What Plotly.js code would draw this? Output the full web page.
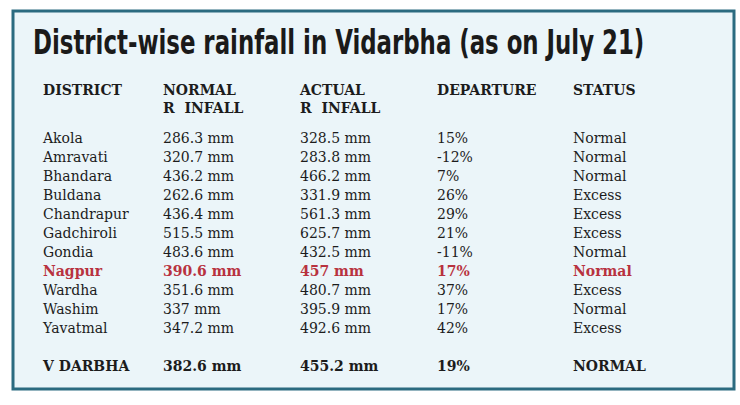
<!DOCTYPE html>
<html>
<head>
<meta charset="utf-8">
<script src="https://cdn.plot.ly/plotly-3.0.1.min.js"></script>
<style>html,body{margin:0;padding:0;background:#fff;}#chart{width:740px;height:405px;}
.annotation-text{transform-box:fill-box;transform-origin:left center;transform:scaleX(0.77);}</style>
</head>
<body>
<div id="chart"></div>
<script>
const title = "District-wise rainfall in Vidarbha (as on July 21)";
const headerTop = ["DISTRICT", "NORMAL", "ACTUAL", "DEPARTURE", "STATUS"];
const headerBottom = ["", "R  INFALL", "R  INFALL", "", ""];
const districts = ["Akola", "Amravati", "Bhandara", "Buldana", "Chandrapur", "Gadchiroli", "Gondia", "Nagpur", "Wardha", "Washim", "Yavatmal"];
const normalRain = ["286.3 mm", "320.7 mm", "436.2 mm", "262.6 mm", "436.4 mm", "515.5 mm", "483.6 mm", "390.6 mm", "351.6 mm", "337 mm", "347.2 mm"];
const actualRain = ["328.5 mm", "283.8 mm", "466.2 mm", "331.9 mm", "561.3 mm", "625.7 mm", "432.5 mm", "457 mm", "480.7 mm", "395.9 mm", "492.6 mm"];
const departure = ["15%", "-12%", "7%", "26%", "29%", "21%", "-11%", "17%", "37%", "17%", "42%"];
const status = ["Normal", "Normal", "Normal", "Excess", "Excess", "Excess", "Normal", "Normal", "Excess", "Normal", "Excess"];
const totalRow = ["V DARBHA", "382.6 mm", "455.2 mm", "19%", "NORMAL"];
const highlight = "Nagpur";

const cols = [districts, normalRain, actualRain, departure, status];
const hiIdx = districts.indexOf(highlight);
const red = "#b8323f", ink = "#1c1c1c";

const headers = headerTop.map((t, i) => t + "<br>" + (headerBottom[i] || "\u00a0"));
const cellValues = cols.map((col, c) => col.concat(["", totalRow[c]]));
const cellColors = cols.map(col => col.map((s, r) => r === hiIdx ? red : ink).concat([ink, ink]));
const cellWeights = cols.map(col => col.map((s, r) => r === hiIdx ? "bold" : "normal").concat(["normal", "bold"]));

const data = [{
  type: "table",
  domain: {x: [35/740, 720/740], y: [0, 1 - 74/405]},
  columnwidth: [120, 137, 137, 136, 155],
  header: {
    values: headers,
    align: "left",
    height: 19,
    line: {width: 0, color: "rgba(0,0,0,0)"},
    fill: {color: "rgba(0,0,0,0)"},
    font: {family: "DejaVu Serif", size: 14, color: ink, weight: "bold"}
  },
  cells: {
    values: cellValues,
    align: "left",
    height: 19,
    line: {width: 0, color: "rgba(0,0,0,0)"},
    fill: {color: "rgba(0,0,0,0)"},
    font: {family: "DejaVu Serif", size: 14, color: cellColors, weight: cellWeights}
  }
}];

const layout = {
  width: 740, height: 405,
  margin: {l: 0, r: 0, t: 0, b: 0},
  paper_bgcolor: "#ffffff",
  showlegend: false,
  shapes: [{
    type: "rect", xref: "paper", yref: "paper",
    x0: 13/740, x1: 734/740, y0: 1 - 389/405, y1: 1 - 11/405,
    line: {color: "#2b6b80", width: 3},
    fillcolor: "#ebf5f9", layer: "below"
  }],
  annotations: [{
    text: title, xref: "paper", yref: "paper",
    x: 31/740, y: 1 - 43/405, xanchor: "left", yanchor: "middle",
    showarrow: false,
    font: {family: "DejaVu Sans Condensed, DejaVu Sans", size: 33, weight: "bold", color: "#1a1a1a"}
  }]
};

Plotly.newPlot("chart", data, layout, {displayModeBar: false, staticPlot: true});
</script>
</body>
</html>
